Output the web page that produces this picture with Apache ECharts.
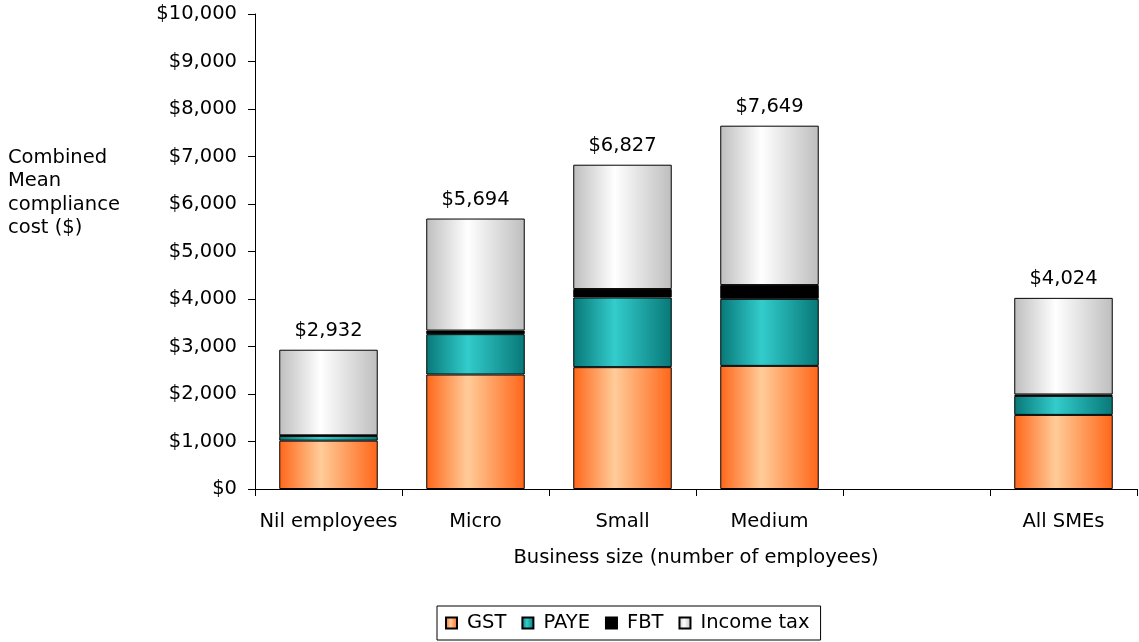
<!DOCTYPE html>
<html><head><meta charset="utf-8">
<script src="https://cdn.jsdelivr.net/npm/echarts@6/dist/echarts.min.js"></script>
<style>html,body{margin:0;padding:0;background:#fff}#c{width:1139px;height:642px}</style>
</head><body><div id="c"></div>
<script>
const categories = ['Nil employees', 'Micro', 'Small', 'Medium', '', 'All SMEs'];
const gst = [1018, 2410, 2565, 2592, null, 1560];
const paye = [100, 850, 1467, 1412, null, 400];
const fbt = [12, 75, 177, 289, null, 30];
const incomeTax = [1802, 2359, 2618, 3356, null, 2034];
const totals = [2932, 5694, 6827, 7649, null, 4024];
const yTicks = [0, 1000, 2000, 3000, 4000, 5000, 6000, 7000, 8000, 9000, 10000];

const FONT = 'DejaVu Sans';
const FS = 19.5;
function grad(edge, mid) {
  return new echarts.graphic.LinearGradient(0, 0, 1, 0, [
    {offset: 0, color: edge}, {offset: 0.42, color: mid}, {offset: 1, color: edge}
  ]);
}
function fmt(v) { return '$' + v.toLocaleString('en-US'); }

const chart = echarts.init(document.getElementById('c'));
const base = {type: 'bar', stack: 'total', barWidth: '67%'};
chart.setOption({
  animation: false,
  textStyle: {fontFamily: FONT},
  grid: {left: 255, right: 2, top: 14, bottom: 153, containLabel: false},
  legend: {
    top: 606, left: 437,
    data: ['GST', 'PAYE', 'FBT', 'Income tax'],
    icon: 'rect', itemWidth: 11, itemHeight: 11, itemGap: 15,
    borderColor: '#000', borderWidth: 1, padding: [7, 11, 7, 8],
    textStyle: {fontFamily: FONT, fontSize: FS, color: '#000', padding: [0, 0, 0, 5]}
  },
  graphic: [{
    type: 'text', left: 8, top: 146,
    style: {text: 'Combined\nMean\ncompliance\ncost ($)', fontFamily: FONT, fontSize: FS, lineHeight: 23.5, fill: '#000'}
  }],
  xAxis: {
    type: 'category', data: categories,
    axisLine: {lineStyle: {color: '#000', width: 1}},
    axisTick: {show: true, interval: 0, length: 7, lineStyle: {color: '#000'}},
    axisLabel: {color: '#000', fontSize: FS, margin: 23, fontFamily: FONT, interval: 0},
    name: 'Business size (number of employees)', nameLocation: 'middle', nameGap: 59,
    nameTextStyle: {color: '#000', fontSize: FS, fontFamily: FONT}
  },
  yAxis: {
    type: 'value', min: 0, max: 10000, interval: 1000,
    splitLine: {show: false},
    axisLine: {show: true, lineStyle: {color: '#000', width: 1}},
    axisTick: {show: true, length: 7, lineStyle: {color: '#000'}},
    axisLabel: {color: '#000', fontSize: FS, margin: 18, fontFamily: FONT,
      formatter: v => yTicks.includes(v) ? fmt(v) : ''}
  },
  series: [
    Object.assign({}, base, {name: 'GST', data: gst,
      itemStyle: {color: grad('#FF6619', '#FFCC99'), borderColor: '#000', borderWidth: 1}}),
    Object.assign({}, base, {name: 'PAYE', data: paye,
      itemStyle: {color: grad('#087878', '#33CCCC'), borderColor: '#000', borderWidth: 1}}),
    Object.assign({}, base, {name: 'FBT', data: fbt,
      itemStyle: {color: '#000', borderColor: '#000', borderWidth: 1}}),
    Object.assign({}, base, {name: 'Income tax', data: incomeTax,
      itemStyle: {color: grad('#BEBEBE', '#FFFFFF'), borderColor: '#000', borderWidth: 1},
      label: {show: true, position: 'top', distance: 9, color: '#000', fontSize: FS, fontFamily: FONT,
        formatter: p => totals[p.dataIndex] == null ? '' : fmt(totals[p.dataIndex])}})
  ]
});
</script></body></html>
